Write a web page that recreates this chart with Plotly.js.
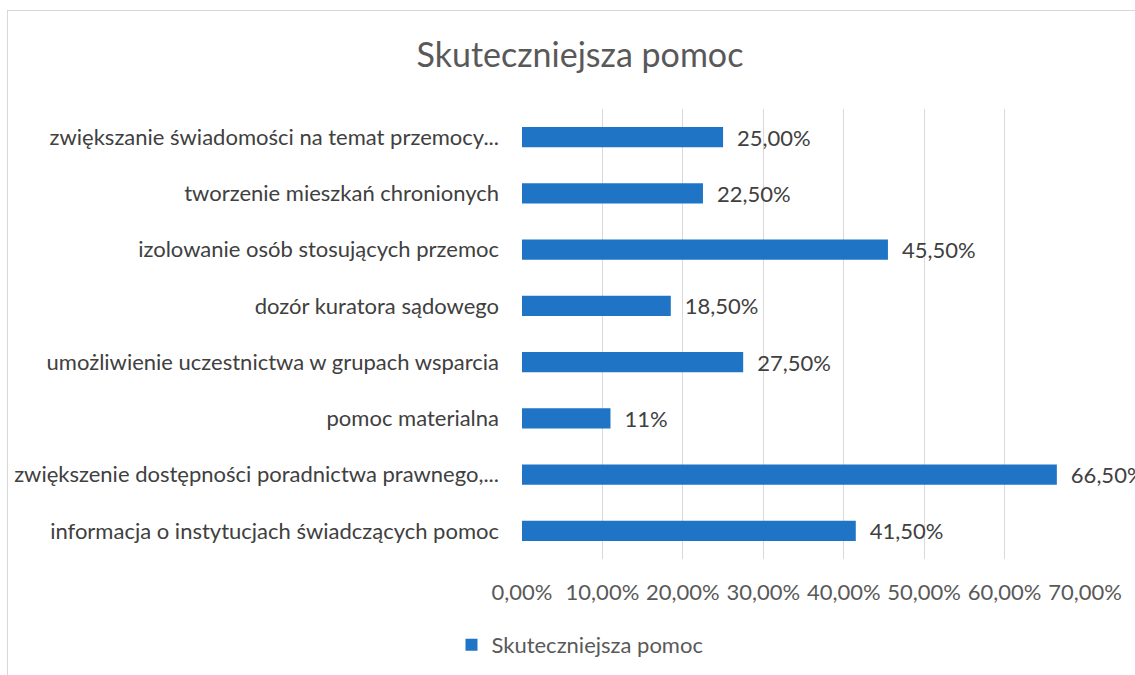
<!DOCTYPE html>
<html>
<head>
<meta charset="utf-8">
<script src="https://cdn.plot.ly/plotly-3.0.1.min.js"></script>
<style>
  html, body { margin: 0; padding: 0; background: #ffffff; overflow: hidden; }
  #chart { position: absolute; left: 0; top: 0; width: 1135px; height: 675px; }
  #frame { position: absolute; left: 7px; top: 10px; width: 1200px; height: 700px;
           border: 1px solid #d8d8d8; pointer-events: none; box-sizing: border-box; }
</style>
</head>
<body>
<div id="chart"></div>
<div id="frame"></div>
<script>
const categories = [
  "zwiększanie świadomości na temat przemocy...",
  "tworzenie mieszkań chronionych",
  "izolowanie osób stosujących przemoc",
  "dozór kuratora sądowego",
  "umożliwienie uczestnictwa w grupach wsparcia",
  "pomoc materialna",
  "zwiększenie dostępności poradnictwa prawnego,...",
  "informacja o instytucjach świadczących pomoc"
];
const values = [0.25, 0.225, 0.455, 0.185, 0.275, 0.11, 0.665, 0.415];
const valueLabels = ["25,00%", "22,50%", "45,50%", "18,50%", "27,50%", "11%", "66,50%", "41,50%"];
const tickValues = [0, 0.1, 0.2, 0.3, 0.4, 0.5, 0.6, 0.7];
const tickLabels = ["0,00%", "10,00%", "20,00%", "30,00%", "40,00%", "50,00%", "60,00%", "70,00%"];
const seriesName = "Skuteczniejsza pomoc";
const chartTitle = "Skuteczniejsza pomoc";

const FONT = "Lato, 'Open Sans', sans-serif";

const trace = {
  type: "bar",
  orientation: "h",
  y: categories,
  x: values,
  name: seriesName,
  text: valueLabels,
  texttemplate: "\u2002%{text}",
  textposition: "outside",
  constraintext: "none",
  cliponaxis: false,
  textfont: { family: FONT, size: 22, color: "#404040" },
  outsidetextfont: { family: FONT, size: 22, color: "#404040" },
  marker: { color: "#1f74c6" },
  hoverinfo: "skip"
};

const layout = {
  width: 1135,
  height: 675,
  paper_bgcolor: "rgba(0,0,0,0)",
  plot_bgcolor: "rgba(0,0,0,0)",
  margin: { l: 522, r: 50, t: 109, b: 116, pad: 0 },
  bargap: 0.64,
  showlegend: true,
  title: {
    text: chartTitle,
    font: { family: FONT, size: 34, color: "#595959" },
    xref: "container", x: 0.511, xanchor: "center",
    yref: "container", y: 1 - 55 / 675, yanchor: "middle"
  },
  xaxis: {
    range: [0, 0.7],
    tickvals: tickValues,
    ticktext: tickLabels,
    showgrid: true,
    gridcolor: "#d9d9d9",
    gridwidth: 1,
    zeroline: false,
    showline: false,
    ticks: "",
    ticklabelstandoff: 18,
    tickfont: { family: FONT, size: 22, color: "#595959" },
    fixedrange: true
  },
  yaxis: {
    autorange: "reversed",
    showgrid: false,
    zeroline: false,
    showline: false,
    ticks: "",
    ticklabelstandoff: 22,
    tickfont: { family: FONT, size: 22, color: "#404040" },
    fixedrange: true
  },
  legend: {
    orientation: "h",
    xref: "container", x: 0.511, xanchor: "center",
    yref: "container", y: 1 - 645 / 675, yanchor: "middle",
    font: { family: FONT, size: 22, color: "#595959" },
    itemwidth: 30
  }
};

Plotly.newPlot("chart", [trace], layout, { displayModeBar: false, staticPlot: true });
</script>
</body>
</html>
